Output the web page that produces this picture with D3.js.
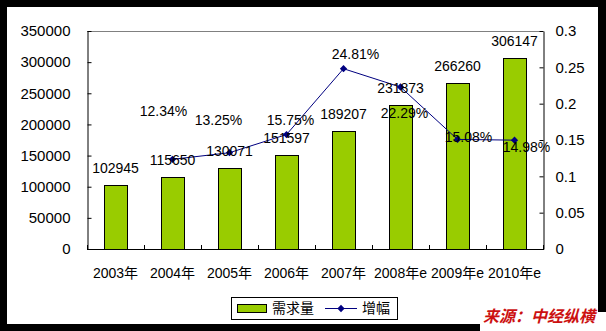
<!DOCTYPE html>
<html>
<head>
<meta charset="utf-8">
<script src="https://cdn.jsdelivr.net/npm/d3@7/dist/d3.min.js"></script>
<style>
  html, body { margin: 0; padding: 0; background: #000; }
  svg { display: block; }
  text { font-family: Arial, "Liberation Sans", "Noto Sans CJK SC", sans-serif; fill: #000; }
</style>
</head>
<body>
<svg id="chart" width="606" height="331"></svg>
<script>
// Demand volume and growth rate, 2003 – 2010 (e = estimate)
const categories = ["2003年", "2004年", "2005年", "2006年", "2007年", "2008年e", "2009年e", "2010年e"];
const demand = [102945, 115650, 130071, 151597, 189207, 231873, 266260, 306147];
const growth = [null, 0.1234, 0.1325, 0.1575, 0.2481, 0.2229, 0.1508, 0.1498];
const leftTicks = [0, 50000, 100000, 150000, 200000, 250000, 300000, 350000];
const rightTicks = [0, 0.05, 0.1, 0.15, 0.2, 0.25, 0.3];
const seriesNames = ["需求量", "增幅"];
const sourceText = "来源：中经纵横";

// label placement for the growth labels, relative to each point (px)
const growthLabelShift = [null, [-9, -48], [-11, -33], [4, -15], [12, -15], [4, 26], [11, -2], [12, 7]];

const svg = d3.select("#chart");
const W = 606, H = 331;

// white page inside the black frame
svg.append("rect").attr("x", 7).attr("y", 7).attr("width", 591).attr("height", 317).attr("fill", "#fff");

const plot = { left: 87, right: 543, top: 31, bottom: 249 };

const x = d3.scaleBand().domain(categories).range([plot.left, plot.right]).padding(0);
const yL = d3.scaleLinear().domain([0, 350000]).range([plot.bottom, plot.top]);
const yR = d3.scaleLinear().domain([0, 0.3]).range([plot.bottom, plot.top]);

// top frame line
svg.append("line")
  .attr("x1", plot.left).attr("x2", plot.right)
  .attr("y1", plot.top + 0.5).attr("y2", plot.top + 0.5)
  .attr("stroke", "#808080");

// bars
const barW = x.bandwidth() * 0.4;
svg.append("g").selectAll("rect").data(demand).join("rect")
  .attr("x", (d, i) => Math.round(x(categories[i]) + x.bandwidth() / 2 - barW / 2) + 0.5)
  .attr("y", d => Math.round(yL(d)) + 0.5)
  .attr("width", Math.round(barW))
  .attr("height", d => Math.round(plot.bottom) - Math.round(yL(d)))
  .attr("fill", "#99cc00")
  .attr("stroke", "#000")
  .attr("stroke-width", 1);

// left axis
const axL = d3.axisLeft(yL).tickValues(leftTicks).tickFormat(d3.format("d"))
  .tickSizeInner(-4).tickSizeOuter(0).tickPadding(17);
const gL = svg.append("g").attr("transform", `translate(${plot.left + 0.5},0)`).call(axL);
gL.select(".domain").attr("stroke", "#000");
gL.selectAll(".tick line").attr("stroke", "#000");
gL.selectAll("text").style("font-size", "15px").attr("fill", "#000");

// right axis
const axR = d3.axisRight(yR).tickValues(rightTicks).tickFormat(d => d === 0 ? "0" : String(+d.toFixed(2)))
  .tickSizeInner(-4).tickSizeOuter(0).tickPadding(12);
const gR = svg.append("g").attr("transform", `translate(${plot.right + 0.5},0)`).call(axR);
gR.select(".domain").attr("stroke", "#000");
gR.selectAll(".tick line").attr("stroke", "#000");
gR.selectAll("text").style("font-size", "15px").attr("fill", "#000");

// bottom axis: line, ticks between categories, centered labels
const gB = svg.append("g");
gB.append("line")
  .attr("x1", plot.left).attr("x2", plot.right + 1)
  .attr("y1", plot.bottom + 0.5).attr("y2", plot.bottom + 0.5)
  .attr("stroke", "#000");
const bounds = categories.map(c => x(c)).concat([plot.right]);
gB.selectAll("line.tk").data(bounds).join("line").attr("class", "tk")
  .attr("x1", d => Math.round(d) + 0.5).attr("x2", d => Math.round(d) + 0.5)
  .attr("y1", plot.bottom - 4).attr("y2", plot.bottom)
  .attr("stroke", "#000");
gB.selectAll("text").data(categories).join("text")
  .attr("x", d => x(d) + x.bandwidth() / 2)
  .attr("y", 278)
  .attr("text-anchor", "middle")
  .style("font-size", "14px")
  .text(d => d);

// growth line with diamond markers
const pts = growth.map((g, i) => g == null ? null : { x: x(categories[i]) + x.bandwidth() / 2, y: yR(g), g, i }).filter(Boolean);
svg.append("path")
  .datum(pts)
  .attr("d", d3.line().x(d => d.x).y(d => d.y))
  .attr("fill", "none")
  .attr("stroke", "#000080")
  .attr("stroke-width", 1);
const diamond = d3.symbol().type(d3.symbolDiamond2).size(34);
svg.append("g").selectAll("path").data(pts).join("path")
  .attr("transform", d => `translate(${d.x},${d.y})`)
  .attr("d", diamond)
  .attr("fill", "#000080");

// bar value labels
svg.append("g").selectAll("text").data(demand).join("text")
  .attr("x", (d, i) => x(categories[i]) + x.bandwidth() / 2)
  .attr("y", d => yL(d) - 12)
  .attr("text-anchor", "middle")
  .style("font-size", "14px")
  .text(d => d);

// growth value labels
svg.append("g").selectAll("text").data(pts).join("text")
  .attr("x", d => d.x + growthLabelShift[d.i][0])
  .attr("y", d => d.y + growthLabelShift[d.i][1] + 5)
  .attr("text-anchor", "middle")
  .style("font-size", "14px")
  .text(d => (d.g * 100).toFixed(2) + "%");

// legend
const lg = svg.append("g");
lg.append("rect").attr("x", 231.5).attr("y", 297.5).attr("width", 166).attr("height", 22)
  .attr("fill", "#fff").attr("stroke", "#000");
lg.append("rect").attr("x", 237.5).attr("y", 304.5).attr("width", 29).attr("height", 8)
  .attr("fill", "#99cc00").attr("stroke", "#000");
lg.append("text").attr("x", 272).attr("y", 313).style("font-size", "14px").text(seriesNames[0]);
lg.append("line").attr("x1", 325).attr("x2", 357).attr("y1", 308.5).attr("y2", 308.5)
  .attr("stroke", "#000080");
lg.append("path").attr("transform", "translate(341,308.5)").attr("d", diamond).attr("fill", "#000080");
lg.append("text").attr("x", 362).attr("y", 313).style("font-size", "14px").text(seriesNames[1]);

// source note
svg.append("rect").attr("x", 480).attr("y", 312).attr("width", 126).attr("height", 19).attr("fill", "#fff");
svg.append("text")
  .attr("x", 483).attr("y", 322)
  .style("font-size", "16px")
  .style("font-weight", "bold")
  .style("font-style", "italic")
  .style("fill", "#cc1111")
  .text(sourceText);
</script>
</body>
</html>
